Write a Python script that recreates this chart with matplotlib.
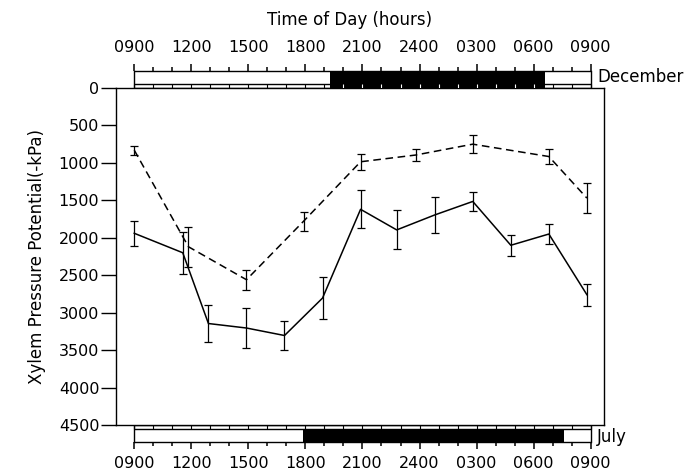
import matplotlib
matplotlib.use("Agg")
import matplotlib.pyplot as plt
import numpy as np

# hours after 0900
hrs_dec = [0.0, 2.85, 5.9, 8.9, 11.9, 14.8, 17.8, 21.8, 23.8]
psi_dec = [830, 2120, 2560, 1780, 985, 895, 750, 915, 1470]
err_dec = [60, 270, 135, 125, 105, 80, 120, 105, 195]

hrs_jul = [0.0, 2.55, 3.9, 5.9, 7.9, 9.9, 11.9, 13.8, 15.8, 17.8, 19.8, 21.8, 23.8]
psi_jul = [1940, 2200, 3145, 3205, 3305, 2805, 1620, 1895, 1695, 1515, 2100, 1950, 2760]
err_jul = [165, 280, 250, 270, 200, 285, 255, 260, 235, 130, 140, 130, 145]

# dark period on the time bars (hours after 0900)
night_dec = (10.3, 21.6)
night_jul = (8.85, 22.6)

time_ticks = [0, 3, 6, 9, 12, 15, 18, 21, 24]
time_labels = ['0900', '1200', '1500', '1800', '2100', '2400', '0300', '0600', '0900']
y_ticks = [0, 500, 1000, 1500, 2000, 2500, 3000, 3500, 4000, 4500]

W, H = 690, 472
XL = (-0.96, 24.7)
fs = 11.5

fig = plt.figure(figsize=(W / 100, H / 100), dpi=100)

def box(l, t, r, b):
    return [l / W, 1 - b / H, (r - l) / W, (b - t) / H]

ax = fig.add_axes(box(116, 88, 604, 425))
ax.errorbar(hrs_dec, psi_dec, yerr=err_dec, color='black', lw=1.1, ls=(0, (5, 3)),
            elinewidth=0.9, capsize=3, capthick=0.9)
ax.errorbar(hrs_jul, psi_jul, yerr=err_jul, color='black', lw=1.1, ls='-',
            elinewidth=0.9, capsize=3, capthick=0.9)
ax.set_xlim(*XL)
ax.set_ylim(4500, 0)
ax.set_yticks(y_ticks)
ax.set_yticklabels([str(v) for v in y_ticks], fontsize=fs)
ax.tick_params(axis='y', direction='out', length=11, width=1, pad=1)
ax.set_xticks([])
for s in ax.spines.values():
    s.set_linewidth(1.0)
ax.set_ylabel('Xylem Pressure Potential(-kPa)', fontsize=12, labelpad=9)


def time_bar(a, night, upward):
    # a: axes with y in pixel units measured away from the main plot
    a.set_xlim(*XL)
    a.axis('off')
    a.fill_between(list(night), 0 if upward else 4, 17, color='black', lw=0)
    for yy in (0, 4, 17):
        a.plot([0, 24], [yy, yy], color='black', lw=1.0, solid_capstyle='butt')
    a.plot([0, 0], [0, 17], color='black', lw=1.0)
    a.plot([24, 24], [0, 17], color='black', lw=1.0)
    hours = np.arange(25)
    inside = (hours > night[0]) & (hours < night[1])
    strip_col = ['white' if (i and upward) else 'black' for i in inside]
    a.vlines(hours, 0, 4, colors=strip_col, lw=0.8)
    tops = np.where(hours % 3 == 0, 24, 21)
    a.vlines(hours, 17, tops, colors='black', lw=1.1)


ax_dec = fig.add_axes(box(116, 60, 604, 88))
time_bar(ax_dec, night_dec, upward=True)
ax_dec.set_ylim(0, 28)
for h, lab in zip(time_ticks, time_labels):
    ax_dec.text(h, 40, lab, ha='center', va='center', fontsize=fs, clip_on=False)
ax_dec.text(24.35, 11, 'December', ha='left', va='center', fontsize=12, clip_on=False)

ax_jul = fig.add_axes(box(116, 425, 604, 453))
time_bar(ax_jul, night_jul, upward=False)
ax_jul.set_ylim(28, 0)
for h, lab in zip(time_ticks, time_labels):
    ax_jul.text(h, 38, lab, ha='center', va='center', fontsize=fs, clip_on=False)
ax_jul.text(24.35, 12, 'July', ha='left', va='center', fontsize=12, clip_on=False)

fig.text(350 / W, 1 - 20 / H, 'Time of Day (hours)', ha='center', va='center', fontsize=12)

fig.savefig('out.png', dpi=100)
